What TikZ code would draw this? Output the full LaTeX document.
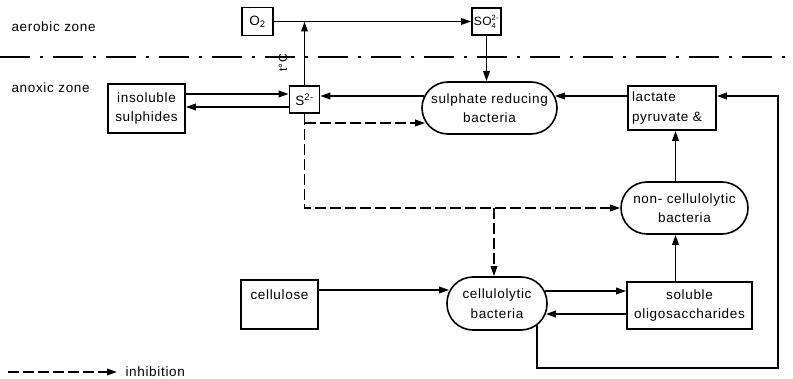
\documentclass[tikz,border=0pt]{standalone}
\usepackage{fontspec}
\setmainfont[LetterSpace=5]{Liberation Sans}
\usetikzlibrary{arrows.meta,calc}
\begin{document}
\begin{tikzpicture}[x=1pt,y=-1pt,
  font=\fontsize{13.5}{19.5}\selectfont,
  box/.style={draw, line width=1.6pt, inner sep=0pt, align=center},
  pill/.style={box, rounded corners=26pt},
  arr/.style={line width=1.8pt, -{Triangle[length=10pt,width=6.5pt]}},
  inh/.style={arr, dash pattern=on 11pt off 4pt},
  ln/.style={line width=1.8pt}]
\useasboundingbox (0,0) rectangle (793,379);

% zone labels and boundary
\node[anchor=west] (aer) at (8,27) {aerobic zone};
\node[anchor=west] (anox) at (8,88) {anoxic zone};
\draw[line width=1.5pt, dash pattern=on 30pt off 10pt on 3pt off 10pt] (0,57) -- (793,57);

% nodes
\node[box, minimum width=31pt, minimum height=28pt] (O2) at (257.5,21.5) {O\textsubscript{2}};
\node[box, minimum width=29pt, minimum height=27pt, font=\fontsize{12}{14}\selectfont] (SO4) at (486.5,21.5)
  {$\mbox{SO}_{\mbox{\fontsize{7.5}{8}\selectfont 4}}^{\mbox{\fontsize{7.5}{8}\selectfont 2-}}$};
\node[box, minimum width=30pt, minimum height=27pt] (S) at (304.5,99.5) {S\textsuperscript{2-}};
\node[rotate=90, font=\fontsize{12}{14}\selectfont] (tc) at (283,63) {t°C};
\node[box, minimum width=77pt, minimum height=49pt] (ins) at (146.5,108.5) {insoluble\\sulphides};
\node[pill, minimum width=135pt, minimum height=52pt] (srb) at (489.5,108) {sulphate reducing\\bacteria};
\node[box, minimum height=44pt, text width=80pt, inner xsep=4pt, align=left] (lac) at (672,108) {lactate\\pyruvate \&};
\node[pill, minimum width=127pt, minimum height=52pt] (nc) at (684.5,208) {non- cellulolytic\\bacteria};
\node[box, minimum width=77pt, minimum height=49pt] (cel) at (279.5,304.5) {cellulose\\\mbox{}};
\node[pill, minimum width=100pt, minimum height=53pt] (clb) at (497,303.5) {cellulolytic\\bacteria};
\node[box, minimum width=125pt, minimum height=47pt] (sol) at (689.5,305.5) {soluble\\oligosaccharides};

% top connectors
\coordinate (top) at (S.north |- O2.east);
\draw[arr] (O2.east) -- (SO4.west);
\draw[arr] (S.north) -- (top);
\draw[arr] (SO4.south) -- (SO4.south |- srb.north);

% insoluble <-> S
\coordinate (a1) at ([yshift=14.5pt]ins.east);
\draw[arr] (a1) -- (a1 -| S.west);
\coordinate (a2) at ([yshift=-7.5pt]S.west);
\draw[arr] (a2) -- (a2 -| ins.east);

% SRB -> S, lactate -> SRB
\coordinate (p1) at ([yshift=12pt,xshift=3pt]srb.west);
\draw[arr] (p1) -- (p1 -| S.east);
\coordinate (p2) at ([yshift=12pt]lac.west);
\coordinate (p3) at ([xshift=-3pt]srb.east);
\draw[arr] (p2) -- (p2 -| p3);

% inhibition (dashed)
\coordinate (d2) at (S.south |- nc.west);
\coordinate (d3) at (494,208);
\draw[inh] (S.south) -- (d2) -- (nc.west);
\coordinate (p4) at ([xshift=4pt,yshift=-15pt]srb.west);
\draw[inh] (p4 -| S.south) -- (p4);
\draw[inh] (d3) -- (d3 |- clb.north);

% bottom flows
\coordinate (p5) at ([xshift=3pt,yshift=13.5pt]clb.west);
\draw[arr] (p5 -| cel.east) -- (p5);
\coordinate (p6) at ([xshift=-3pt,yshift=12.5pt]clb.east);
\draw[arr] (p6) -- (p6 -| sol.west);
\coordinate (p7) at ([xshift=-2pt,yshift=-10.5pt]clb.east);
\draw[arr] (p7 -| sol.west) -- (p7);
\coordinate (vx) at (675.5,0);
\draw[arr] (sol.north -| vx) -- (nc.south -| vx);
\draw[arr] (nc.north -| vx) -- (lac.south -| vx);

% feedback loop
\coordinate (q1) at (537,325);
\coordinate (q2) at (537,368);
\coordinate (q3) at (778,368);
\draw[arr] (q1) -- (q2) -- (q3) -- (q3 |- p2) -- (lac.east |- p2);

% legend
\coordinate (l1) at (8,372);
\coordinate (l2) at (117,372);
\draw[inh] (l1) -- (l2);
\node[anchor=west] (inhib) at (122,372) {inhibition};
\end{tikzpicture}
\end{document}
